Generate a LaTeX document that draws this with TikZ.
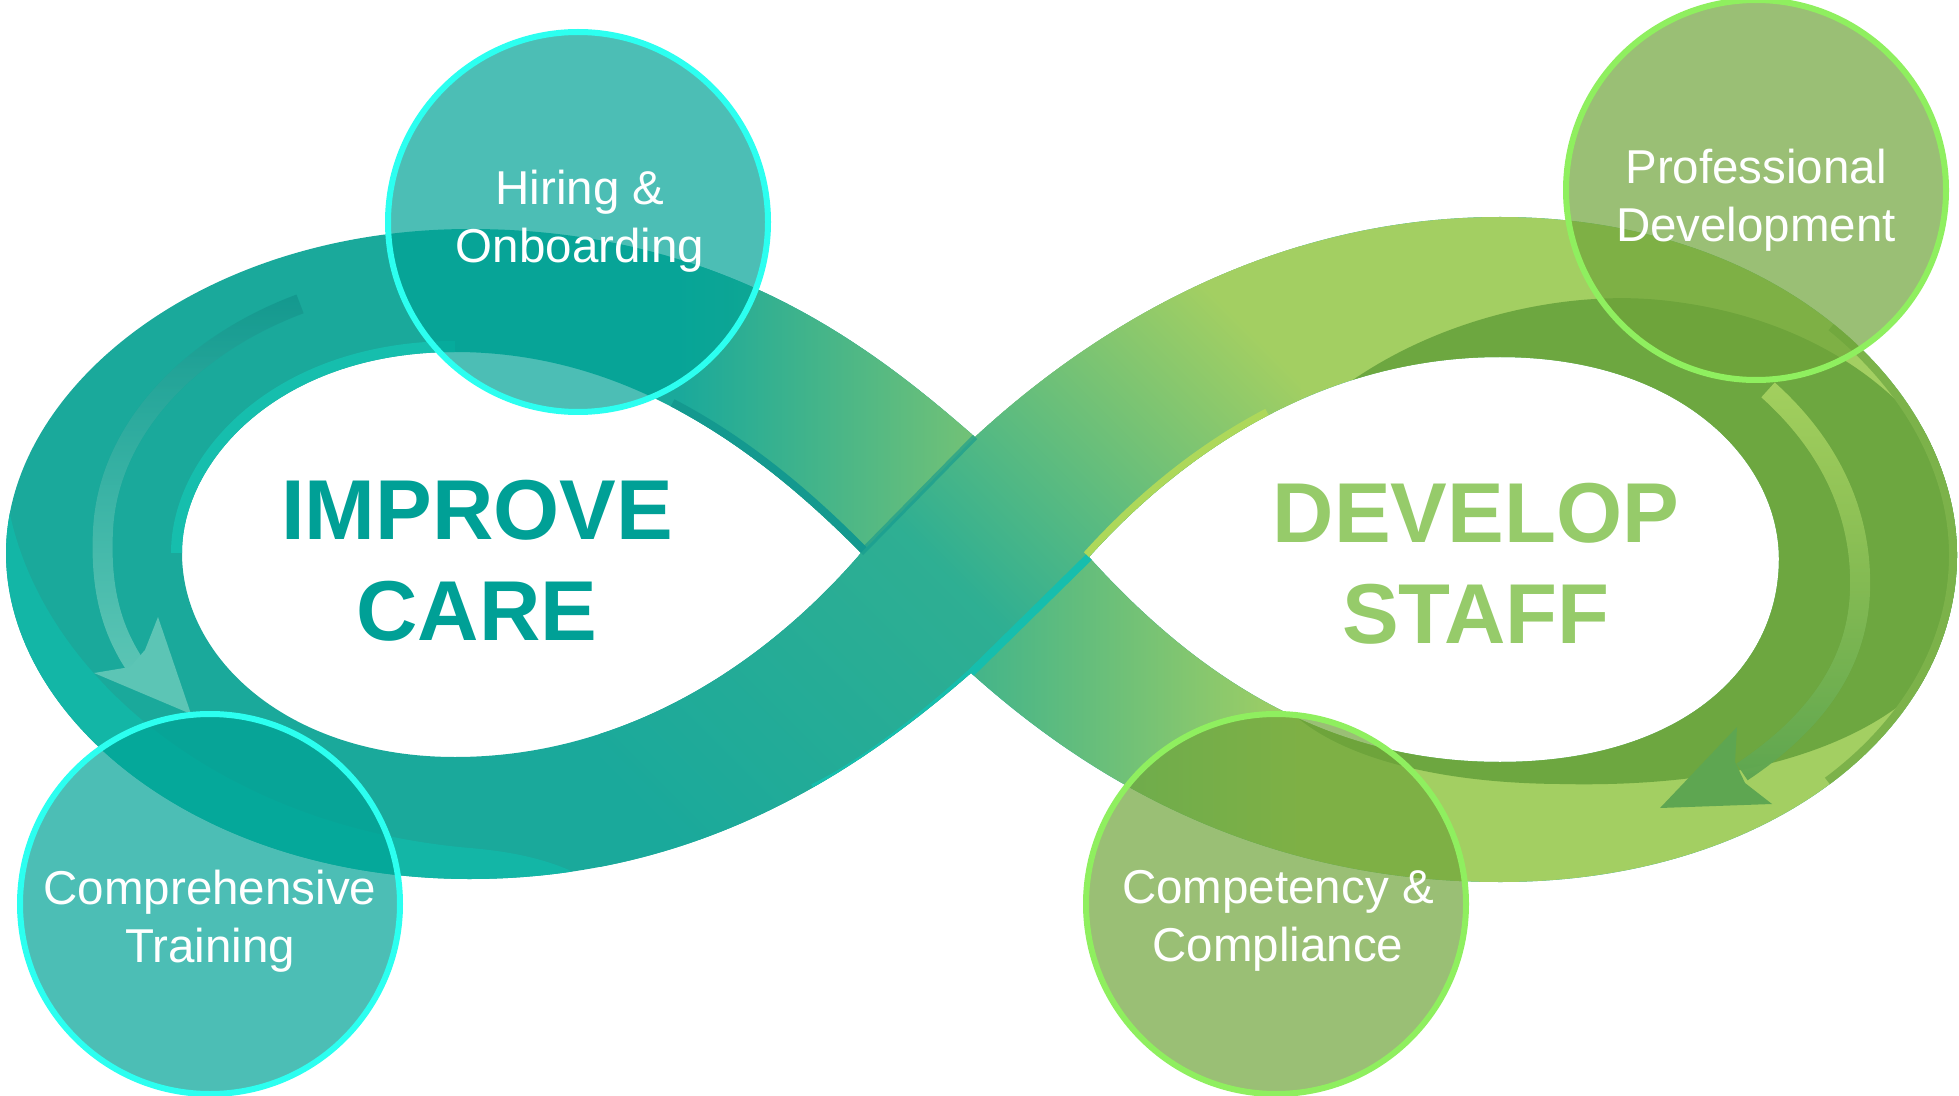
\documentclass[tikz,border=0pt]{standalone}
\usepackage{fontspec}
\setmainfont{Liberation Sans}
\usepackage{tikz}
\usetikzlibrary{fadings}
\usepackage{xcolor}
\definecolor{BandTeal}{HTML}{1AA99B}
\definecolor{BandGreen}{HTML}{A3CF62}
\definecolor{TealLite}{HTML}{13B6A6}
\definecolor{TealRim}{HTML}{16BEAD}
\definecolor{TealShadow}{HTML}{14998F}
\definecolor{GreenDark}{HTML}{6DA740}
\definecolor{GreenRim}{HTML}{7CB24A}
\definecolor{GreenLite}{HTML}{ADD85A}
\definecolor{TealCircle}{HTML}{00A396}
\definecolor{TealEdge}{HTML}{2CFFF0}
\definecolor{GreenCircle}{HTML}{6FA43A}
\definecolor{GreenEdge}{HTML}{8FEF5F}
\definecolor{CareText}{HTML}{00A096}
\definecolor{StaffText}{HTML}{96CB6A}
\definecolor{TealArrow}{HTML}{5CC5B5}
\definecolor{GreenArrow}{HTML}{5EA651}
\definecolor{GreenStripe}{HTML}{A3D05F}
% outline of the figure eight, both holes cut out
\newcommand{\infinityband}{%
  (975,437) .. controls (870,345) and (720,229) .. (470,229)
  .. controls (200,229) and (6,390) .. (6,553)
  .. controls (6,720) and (200,879) .. (470,879)
  .. controls (700,879) and (860,770) .. (971,673)
  .. controls (1090,780) and (1260,882) .. (1500,882)
  .. controls (1770,882) and (1957,730) .. (1957,555)
  .. controls (1957,390) and (1780,217) .. (1500,217)
  .. controls (1260,217) and (1080,340) .. (975,437) -- cycle
  (861,553) .. controls (740,430) and (610,352) .. (455,352)
  .. controls (280,352) and (182,460) .. (182,553)
  .. controls (182,660) and (290,757) .. (455,757)
  .. controls (620,757) and (760,670) .. (861,553) -- cycle
  (1089,557) .. controls (1190,445) and (1330,357) .. (1500,357)
  .. controls (1680,357) and (1779,460) .. (1779,559)
  .. controls (1779,670) and (1680,762) .. (1500,762)
  .. controls (1330,762) and (1200,680) .. (1089,557) -- cycle}
\newcommand{\frontstrand}{%
  (975,437) -- (1000,150) -- (1300,150) -- (1300,450) -- (1089,557)
  -- (971,673) -- (940,1000) -- (600,1000) -- (600,620) -- (861,553) -- cycle}
\tikzset{%
  stage_circle/.style={%
    circle,%
    minimum size=190pt,%
    inner sep=0pt,%
    line width=3pt,%
    fill opacity=0.7,%
    draw opacity=1,%
  },
  teal_stage/.style={%
    stage_circle,%
    fill=TealCircle,%
    draw=TealEdge,%
  },
  green_stage/.style={%
    stage_circle,%
    fill=GreenCircle,%
    draw=GreenEdge,%
  },
  stage_label/.style={%
    align=center,%
    text=white,%
    font={\fontsize{23.75}{29}\selectfont},%
  },
  loop_title/.style={%
    align=center,%
    font={\fontsize{42.5}{50.5}\selectfont\bfseries},%
  },
  loop_shaft/.style={%
    line width=10pt,%
    line cap=butt,%
  },
}

\begin{document}
\begin{tikzpicture}[x=0.5pt, y=-0.5pt]
  \useasboundingbox (0,0) rectangle (1959,1096);

  \begin{scope}[even odd rule]
    \clip \infinityband;
    \fill [BandTeal] (0,0) rectangle (1959,1096);
    \fill [BandGreen] (975,0) rectangle (1959,557);
    \fill [BandGreen] (1300,557) rectangle (1959,1096);
    \shade [left color=BandTeal, right color=BandTeal!35!BandGreen]
      (680,0) rectangle (975,555);
    \shade [left color=BandTeal!70!BandGreen, right color=BandGreen]
      (971,557) rectangle (1300,1096);

    % left loop shading
    \fill [TealLite]
      (-20,470) -- (4,470)
      .. controls (14,650) and (200,825) .. (470,848)
      .. controls (540,854) and (580,870) .. (620,900)
      -- (620,1100) -- (-20,1100) -- cycle;
    \draw [line width=11pt, TealRim]
      (182,553) .. controls (182,460) and (280,352) .. (455,352);
    \draw [line width=8pt, TealShadow]
      (670.75,406.4) .. controls (737.75,441.25) and (800.5,491.5) .. (861,553);

    % right loop inner wall
    \fill [GreenDark]
      (1320,405)
      .. controls (1420,320) and (1560,290) .. (1660,300)
      .. controls (1860,320) and (1975,450) .. (1975,565)
      .. controls (1975,700) and (1820,790) .. (1560,784)
      .. controls (1420,783) and (1320,750) .. (1280,700)
      .. controls (1400,600) and (1400,500) .. (1320,405) -- cycle;
    \draw [line width=8pt, GreenRim]
      (1833.5,324.1) .. controls (1912.75,388) and (1957,472.5) .. (1957,555)
      .. controls (1957,642.5) and (1910.25,724.25) .. (1829.75,784.1);

    % strand in front at the crossing
    \shade [bottom color=BandTeal, top color=BandGreen,
      middle color=BandTeal!85!BandGreen, shading angle=-45] \frontstrand;
    \draw [line width=4pt, TealRim]
      (813,788) .. controls (870,760) and (930,710) .. (971,673) -- (1089,557);
    \draw [line width=7pt, GreenLite]
      (1089,557) .. controls (1139.5,501) and (1199.75,451) .. (1268.6,415);
    \draw [line width=3pt, TealShadow, opacity=0.6]
      (861,553) -- (975,437);
  \end{scope}

  % turning arrows
  \draw [loop_shaft, draw=TealShadow, path fading=south]
    (300,304) .. controls (190,345) and (108,430) .. (103,530)
    .. controls (100,590) and (112,630) .. (135,665);
  \draw [loop_shaft, draw=TealArrow, path fading=north]
    (300,304) .. controls (190,345) and (108,430) .. (103,530)
    .. controls (100,590) and (112,630) .. (135,665);
  \fill [TealArrow]
    (191,714) -- (94,673) -- (130,667) -- (145,650) -- (158,617) -- cycle;

  \draw [loop_shaft, draw=GreenArrow, path fading=north]
    (1768,390) .. controls (1835,450) and (1862,520) .. (1860,590)
    .. controls (1858,660) and (1820,720) .. (1742,772);
  \draw [loop_shaft, draw=GreenStripe, path fading=south]
    (1768,390) .. controls (1835,450) and (1862,520) .. (1860,590)
    .. controls (1858,660) and (1820,720) .. (1742,772);
  \fill [GreenArrow]
    (1660,808) -- (1737,727) -- (1735,762) -- (1745,783) -- (1772,804) -- cycle;

  % stages
  \node [teal_stage] (hiring) at (578,222) {};
  \node [teal_stage] (training) at (210,904) {};
  \node [green_stage] (development) at (1756,190) {};
  \node [green_stage] (compliance) at (1276,904) {};

  \node [stage_label] (hiring_text) at (580,221) {Hiring \&\\Onboarding};
  \node [stage_label] (development_text) at (1756,200) {Professional\\Development};
  \node [stage_label] (training_text) at (210,921) {Comprehensive\\Training};
  \node [stage_label] (compliance_text) at (1278,921) {Competency \&\\Compliance};

  \node [loop_title, text=CareText] (improve_care) at (477,561) {IMPROVE\\CARE};
  \node [loop_title, text=StaffText] (develop_staff) at (1476,564) {DEVELOP\\STAFF};

\end{tikzpicture}
\end{document}
